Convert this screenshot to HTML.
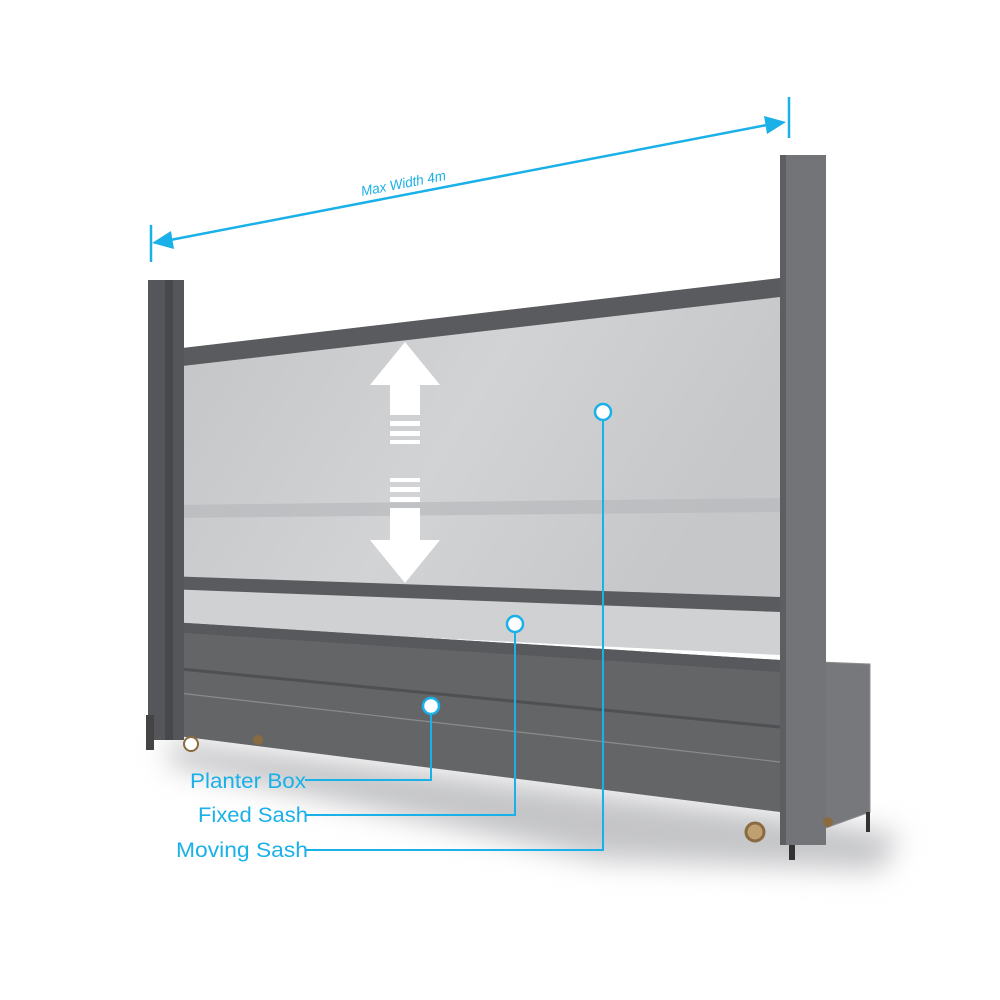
<!DOCTYPE html>
<html><head><meta charset="utf-8"><style>
html,body{margin:0;padding:0;background:#fff;width:1000px;height:1000px;overflow:hidden}
svg{display:block}
text{font-family:"Liberation Sans",sans-serif}
</style></head><body>
<svg width="1000" height="1000" viewBox="0 0 1000 1000" xmlns="http://www.w3.org/2000/svg">
<defs>
<linearGradient id="gl" x1="0" y1="0" x2="1" y2="0.3">
<stop offset="0" stop-color="#c3c4c6"/><stop offset="0.55" stop-color="#d2d3d5"/><stop offset="1" stop-color="#c6c7c9"/>
</linearGradient>
<filter id="bl" x="-20%" y="-50%" width="140%" height="200%"><feGaussianBlur stdDeviation="14"/></filter>
</defs>
<!-- shadow -->
<polygon points="170,740 780,815 900,835 880,870 600,860 170,765" fill="#c4c5c7" filter="url(#bl)"/>
<!-- glass -->
<polygon points="168,365 780,297 780,600 168,580" fill="url(#gl)"/>
<polygon points="168,588 780,612 780,655 168,625" fill="#d0d1d3"/>
<polygon points="168,505 780,498 780,512 168,518" fill="#b8b9bc" opacity="0.7"/>
<!-- top rail -->
<polygon points="165,350 780,278 780,297 165,368" fill="#5a5b5e"/>
<!-- mid rail -->
<polygon points="165,576 780,597 780,612 165,589" fill="#5a5b5e"/>
<!-- planter -->
<polygon points="170,622 780,660 780,812 170,735" fill="#646567"/>
<polygon points="170,622 780,660 780,672 170,632" fill="#58595c"/>
<line x1="170" y1="668" x2="780" y2="727" stroke="#4f5053" stroke-width="3"/>
<line x1="170" y1="692" x2="780" y2="762" stroke="#8a8b8c" stroke-width="1.2"/>
<!-- right extension -->
<polygon points="820,662 870,664 870,812 820,830" fill="#77787b" stroke="#8e8f92"/>
<rect x="866" y="812" width="4" height="20" fill="#333"/>
<!-- left post -->
<rect x="148" y="280" width="36" height="460" fill="#55565a"/>
<rect x="165" y="280" width="8" height="460" fill="#47484b"/>
<rect x="146" y="715" width="8" height="35" fill="#444"/>
<!-- right post -->
<rect x="780" y="155" width="46" height="690" fill="#737477"/>
<rect x="780" y="155" width="6" height="690" fill="#5d5e61"/>
<rect x="789" y="845" width="6" height="15" fill="#333"/>
<!-- wheels -->
<circle cx="191" cy="744" r="7" fill="#fff" stroke="#8a6a40" stroke-width="2"/><circle cx="258" cy="740" r="5" fill="#8a6a40"/>
<circle cx="755" cy="832" r="9" fill="#bfa070" stroke="#8a6a40" stroke-width="3"/>
<circle cx="828" cy="822" r="5" fill="#8a6a40"/>
<!-- arrows -->
<polygon points="405,342 440,385 420,385 420,415 390,415 390,385 370,385" fill="#fff"/>
<rect x="390" y="421" width="30" height="5" fill="#fff"/><rect x="390" y="431" width="30" height="5" fill="#fff"/><rect x="390" y="440" width="30" height="4" fill="#fff"/>
<rect x="390" y="478" width="30" height="4" fill="#fff"/><rect x="390" y="487" width="30" height="5" fill="#fff"/><rect x="390" y="497" width="30" height="5" fill="#fff"/>
<polygon points="405,583 440,540 420,540 420,508 390,508 390,540 370,540" fill="#fff"/>
<!-- dimension -->
<g stroke="#1ab0e8" stroke-width="2.5" fill="#1ab0e8">
<line x1="151" y1="225" x2="151" y2="262"/>
<line x1="789" y1="97" x2="789" y2="138"/>
<line x1="165" y1="241" x2="772" y2="124"/>
<polygon points="152,243 171,231 174,249" stroke="none"/>
<polygon points="786,122 764,116 767,134" stroke="none"/>
</g>
<text x="0" y="0" font-size="14" font-style="italic" fill="#1ab0e8" textLength="86" lengthAdjust="spacingAndGlyphs" transform="translate(362,196) rotate(-10.8)">Max Width 4m</text>
<!-- callouts -->
<g stroke="#1ab0e8" stroke-width="2" fill="none">
<polyline points="603,420 603,850 305,850"/>
<polyline points="515,632 515,815 305,815"/>
<polyline points="431,714 431,780 305,780"/>
</g>
<g stroke="#1ab0e8" stroke-width="2.5" fill="#fff">
<circle cx="603" cy="412" r="8"/><circle cx="515" cy="624" r="8"/><circle cx="431" cy="706" r="8"/>
</g>
<g font-size="21" fill="#1ab0e8">
<text x="190" y="788" textLength="116" lengthAdjust="spacingAndGlyphs">Planter Box</text>
<text x="198" y="822" textLength="110" lengthAdjust="spacingAndGlyphs">Fixed Sash</text>
<text x="176" y="857" textLength="132" lengthAdjust="spacingAndGlyphs">Moving Sash</text>
</g>
</svg>
</body></html>
